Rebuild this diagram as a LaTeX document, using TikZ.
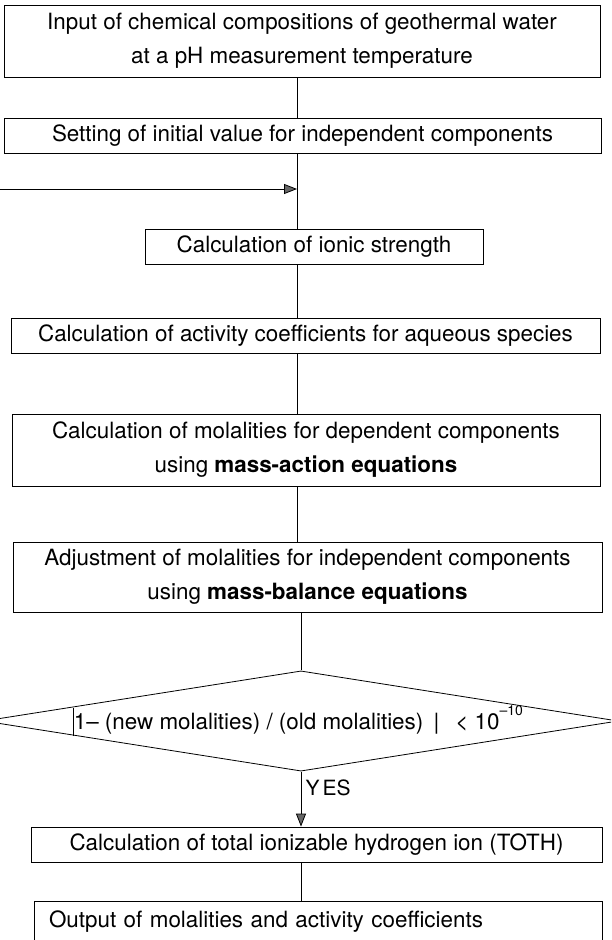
\documentclass[tikz,border=0pt]{standalone}
\usepackage{fontspec}
\setmainfont{TeX Gyre Heros}
\usetikzlibrary{arrows.meta}
\usetikzlibrary{shapes.geometric}

\begin{document}
\begin{tikzpicture}[x=1pt,y=-1pt,
    box/.style={draw,line width=0.8pt,inner sep=0pt,align=center,
        font=\fontsize{22.4}{34}\selectfont},
    test/.style={draw,diamond,aspect=6.33,line width=0.8pt,inner sep=0pt,
        font=\fontsize{22.4}{26}\selectfont},
    link/.style={line width=0.8pt},
    tip/.style={-{Triangle[length=13pt,width=10pt,fill=black!60]}}]
    \clip (0,0) rectangle (611,940);
    % steps of the calculation
    \node[box,minimum width=596pt,minimum height=72pt] (input) at (302,41)
        {Input of chemical compositions of geothermal water\\at a pH measurement temperature};
    \node[box,minimum width=597pt,minimum height=35pt] (setting) at (302.5,135.5)
        {Setting of initial value for independent components};
    \node[box,minimum width=338pt,minimum height=35pt] (ionic) at (314,246.5)
        {Calculation of ionic strength};
    \node[box,minimum width=589pt,minimum height=35pt] (activity) at (305.5,336)
        {Calculation of activity coefficients for aqueous species};
    \node[box,minimum width=588pt,minimum height=72pt] (massaction) at (306,450)
        {Calculation of molalities for dependent components\\using \textbf{mass-action equations}};
    \node[box,minimum width=589pt,minimum height=70pt] (massbalance) at (307.5,577)
        {Adjustment of molalities for independent components\\using \textbf{mass-balance equations}};
    \node[test,minimum width=620pt,minimum height=98pt] (converge) at (301,721)
        {\hspace{-6pt}\rule[-0.3em]{0.8pt}{1.25em}1– (new molalities) / (old molalities)
         \hspace{4pt}|\hspace{16pt}< 10\raisebox{0.6em}{\fontsize{14}{14}\selectfont –10}};
    \node[box,minimum width=571pt,minimum height=35pt] (toth) at (316.5,844.5)
        {Calculation of total ionizable hydrogen ion (TOTH)};
    \node[box,minimum width=568pt,minimum height=42pt,text width=538pt,align=left] (output) at (318,922)
        {Output of molalities and activity coefficients};
    % main line
    \coordinate (axis) at (297,0);
    \coordinate (loop) at (0,189);
    \draw[link] (input.south -| axis) -- (setting.north -| axis);
    \draw[link] (setting.south -| axis) -- (ionic.north -| axis);
    \draw[link,tip] (loop) -- (loop -| axis);
    \draw[link] (ionic.south -| axis) -- (activity.north -| axis);
    \draw[link] (activity.south -| axis) -- (massaction.north -| axis);
    \draw[link] (massaction.south -| axis) -- (massbalance.north -| axis);
    \draw[link] (massbalance.south -| converge.north) -- (converge.north);
    \draw[link,tip] (converge.south) -- node[pos=0.3,right=1pt,font=\fontsize{21}{21}\selectfont] {Y\kern3pt ES}
        (converge.south |- toth.north);
    \draw[link] (toth.south -| converge.south) -- (output.north -| converge.south);
\end{tikzpicture}
\end{document}
